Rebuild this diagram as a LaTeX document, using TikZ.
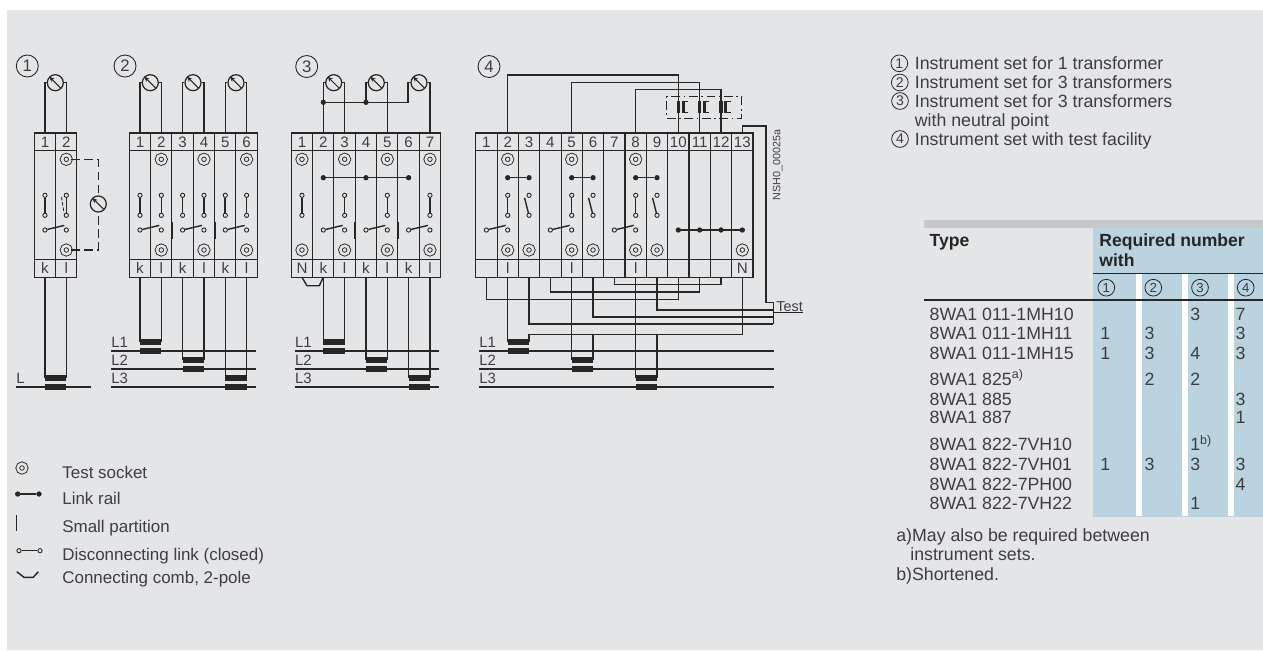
\documentclass[tikz,border=0pt]{standalone}
\usepackage{fontspec}
\setmainfont{Liberation Sans}
\usepackage{tikz}
\usetikzlibrary{arrows.meta,calc,positioning}
\newcommand{\colw}{21.33}
\definecolor{panelGray}{RGB}{228,229,231}
\definecolor{barGray}{RGB}{199,200,202}
\definecolor{tabBlue}{RGB}{186,211,222}
\definecolor{inkDark}{RGB}{38,38,38}
\definecolor{inkText}{RGB}{62,62,64}
\tikzset{
  wire/.style={draw=inkDark,line width=0.8pt},
  block/.style={draw=inkDark,line width=0.6pt},
  dashwire/.style={draw=inkDark,line width=0.7pt,dash pattern=on 5pt off 2.5pt},
  partit/.style={draw=inkDark,line width=1.1pt},
  tbar/.style={draw=inkDark,line width=3.4pt},
  lline/.style={draw=inkDark,line width=1pt},
  link/.style={draw=inkDark,line width=0.9pt},
  term/.style={draw=inkDark,fill=panelGray,shape=circle,minimum size=0.085cm,inner sep=0,line width=0.5pt},
  railnode/.style={draw=inkDark,fill=inkDark,shape=circle,minimum size=0.09cm,inner sep=0},
  socket/.style={draw=inkDark,shape=circle,double=panelGray,double distance=1.5pt,line width=0.5pt,minimum size=0.17cm,inner sep=0},
  meter/.style={draw=inkDark,fill=panelGray,shape=circle,minimum size=0.32cm,inner sep=0,line width=0.7pt,
    path picture={\draw [line width=0.6pt,inkDark,-{Stealth[length=3pt,width=2.6pt]}] ($(path picture bounding box.center)+(5.5,5.5)$) -- ($(path picture bounding box.center)+(-6,-6)$);}},
  numbig/.style={draw=inkDark,shape=circle,minimum size=0.44cm,inner sep=0,line width=0.5pt,text=inkText,font=\fontsize{9.5}{10}\selectfont},
  numsmall/.style={draw=inkDark,shape=circle,minimum size=0.335cm,inner sep=0,line width=0.45pt,text=inkText,font=\fontsize{8}{9}\selectfont},
  collabel/.style={inner sep=0,text=inkText,font=\fontsize{8.6}{9}\selectfont},
  phase/.style={anchor=base west,inner sep=0,text=inkText,font=\fontsize{8.5}{9}\selectfont},
  legtext/.style={anchor=base west,inner sep=0,text=inkText,font=\fontsize{9.65}{11}\selectfont},
  tabtext/.style={anchor=base west,inner sep=0,text=inkText,font=\fontsize{10.1}{12}\selectfont},
  tabhead/.style={anchor=base west,inner sep=0,text=inkDark,font=\fontsize{10}{12}\selectfont\bfseries},
  relay/.style={draw=inkDark,line width=0.6pt,dash pattern=on 5pt off 2pt on 1pt off 2pt,minimum width=1.5cm,minimum height=0.432cm,inner sep=0},
}
% #1 name, #2 left edge, #3 number of terminals
\newcommand{\termblock}[3]{
  \path [block] (#2,133) rectangle ++(#3*\colw,144.3);
  \path [block] (#2,150.7) -- ++(#3*\colw,0);
  \path [block] (#2,259.3) -- ++(#3*\colw,0);
  \foreach \i in {1,...,#3} {
    \pgfmathsetmacro{\xc}{#2+(\i-0.5)*\colw}
    \coordinate (#1\i t) at (\xc,133);
    \coordinate (#1\i b) at (\xc,277.3);
    \node (#1\i n) [collabel] at (\xc,142.3) {\i};
    \ifnum\i>1 \path [block] (\xc-0.5*\colw,133) -- (\xc-0.5*\colw,277.3); \fi
  }
}
\newcommand{\vlink}[1]{
  \node (#1u) [term] at (#1t |- 0,195.3) {};
  \node (#1v) [term] at (#1t |- 0,215.3) {};
  \path [link] (#1u) -- (#1v);
}
\newcommand{\openlink}[1]{
  \node (#1u) [term] at (#1t |- 0,195.3) {};
  \node (#1v) [term] at (#1t |- 0,215.3) {};
  \path [wire] ($(#1u)+(-4.5,2.5)$) -- (#1v);
}
\newcommand{\hlink}[2]{
  \node (#1h) [term] at (#1t |- 0,230) {};
  \node (#2h) [term] at (#2t |- 0,230) {};
  \path [wire] (#1h) -- ($(#2h)+(-2,-4.6)$);
}
\newcommand{\partition}[2]{
  \coordinate (pp) at ($(#1t)!.5!(#2t)$);
  \path [partit] (pp |- 0,222) -- (pp |- 0,239);
}
\newcommand{\rail}[2]{
  \node (#1r) [railnode] at (#1t |- 0,177.7) {};
  \node (#2r) [railnode] at (#2t |- 0,177.7) {};
  \path [link] (#1r) -- (#2r);
}
\newcommand{\transbar}[3]{
  \path [tbar,line cap=butt] (#1b |- 0,#3) -- (#2b |- 0,#3);
  \path [tbar,line cap=butt] (#1b |- 0,#3+9.6) -- (#2b |- 0,#3+9.6);
}
\newcommand{\phaseline}[5]{
  \node (#1) [phase] at (#2,#4-3.6) {#5};
  \coordinate (#1s) at (#2,#4);
  \coordinate (#1e) at (#3,#4);
  \path [lline] (#1s) -- (#1e);
}
\begin{document}
\begin{tikzpicture}[x=0.02cm,y=-0.02cm]
  \useasboundingbox (0,0) rectangle (1263,650);
  \path [fill=panelGray] (7,10) rectangle (1263,650);

  \node (seta) [numbig] at (27.3,66) {1};
  \node (setb) [numbig] at (125,66) {2};
  \node (setc) [numbig] at (306.7,66.5) {3};
  \node (setd) [numbig] at (489,66.5) {4};

  \termblock{a}{34.3}{2}
  \termblock{b}{129.3}{6}
  \termblock{c}{291.3}{7}
  \termblock{d}{475.7}{13}

  % lower label row
  \foreach \col/\lab in {a1/k,a2/l,b1/k,b2/l,b3/k,b4/l,b5/k,b6/l,c1/N,c2/k,c3/l,c4/k,c5/l,c6/k,c7/l,d2/l,d5/l,d8/l,d13/N} {
    \node (\col k) [collabel] at (\col t |- 0,268.5) {\lab};
  }
  % test sockets
  \foreach \col in {a2,b2,b4,b6,c1,c3,c5,c7,d2,d5,d8} {
    \node (\col s) [socket] at (\col t |- 0,159.3) {};
  }
  \foreach \col in {a2,b2,b4,b6,c1,c3,c5,c7,d2,d3,d5,d6,d8,d9,d13} {
    \node (\col w) [socket] at (\col t |- 0,250) {};
  }
  % disconnecting links
  \foreach \col in {a1,a2,b1,b2,b3,b4,b5,b6,c1,c3,c5,c7,d2,d5,d8} {\vlink{\col}}
  \foreach \col in {d3,d6,d9} {\openlink{\col}}
  \foreach \cola/\colb in {a1/a2,b1/b2,b3/b4,b5/b6,c2/c3,c4/c5,c6/c7,d1/d2,d4/d5,d7/d8} {\hlink{\cola}{\colb}}
  \foreach \cola/\colb in {b2/b3,b4/b5,c3/c4,c5/c6} {\partition{\cola}{\colb}}
  \path [draw=inkDark,line width=0.5pt,dash pattern=on 2pt off 1pt] (61.5,197) -- (64,213);

  % set 1
  \node (ma) [meter] at (55.3,82.7) {};
  \node (mx) [meter] at (98.3,204) {};
  \path [wire] (a1t) |- (ma);
  \path [wire] (a2t) |- (ma);
  \path [dashwire] (a2s) -| (mx);
  \path [dashwire] (a2w) -| (mx);
  \path [wire] (a1b) -- (a1b |- 0,377.7) -- (a2b |- 0,377.7) -- (a2b);
  \transbar{a1}{a2}{377.7}
  \phaseline{pL}{16}{90.7}{387.3}{L}

  % set 2
  \node (mb1) [meter] at (150.3,82.7) {};
  \node (mb2) [meter] at (193,82.7) {};
  \node (mb3) [meter] at (236,82.7) {};
  \path [wire] (b1t) |- (mb1);
  \path [wire] (b2t) |- (mb1);
  \path [wire] (b3t) |- (mb2);
  \path [wire] (b4t) |- (mb2);
  \path [wire] (b5t) |- (mb3);
  \path [wire] (b6t) |- (mb3);
  \path [wire] (b1b) -- (b1b |- 0,341.7) -- (b2b |- 0,341.7) -- (b2b);
  \path [wire] (b3b) -- (b3b |- 0,359.7) -- (b4b |- 0,359.7) -- (b4b);
  \path [wire] (b5b) -- (b5b |- 0,377.7) -- (b6b |- 0,377.7) -- (b6b);
  \transbar{b1}{b2}{341.7}
  \transbar{b3}{b4}{359.7}
  \transbar{b5}{b6}{377.7}
  \phaseline{pbA}{111}{256}{351.3}{L1}
  \phaseline{pbB}{111}{256}{369.3}{L2}
  \phaseline{pbC}{111}{256}{387.3}{L3}

  % set 3
  \node (mc1) [meter] at (333.7,82.7) {};
  \node (mc2) [meter] at (376.3,82.7) {};
  \node (mc3) [meter] at (419,82.7) {};
  \coordinate (cj3) at (408,102.3);
  \node (cj1) [railnode] at (c2t |- cj3) {};
  \node (cj2) [railnode] at (c4t |- cj3) {};
  \path [wire] (c2t) |- (mc1);
  \path [wire] (c3t) |- (mc1);
  \path [wire] (c5t) |- (mc2);
  \path [wire] (cj2) |- (mc2);
  \path [wire] (cj1) -- (cj3) |- (mc3);
  \path [wire] (c7t) |- (mc3);
  \rail{c2}{c6}
  \node (c4r) [railnode] at (c4t |- 0,177.7) {};
  \path [wire] (c1b) -- ++(5,8.4) -- ++(12.3,0) -- (c2b);
  \path [wire] (c2b) -- (c2b |- 0,341.7) -- (c3b |- 0,341.7) -- (c3b);
  \path [wire] (c4b) -- (c4b |- 0,359.7) -- (c5b |- 0,359.7) -- (c5b);
  \path [wire] (c6b) -- (c6b |- 0,377.7) -- (c7b |- 0,377.7) -- (c7b);
  \transbar{c2}{c3}{341.7}
  \transbar{c4}{c5}{359.7}
  \transbar{c6}{c7}{377.7}
  \phaseline{pcA}{294.7}{439.3}{351.3}{L1}
  \phaseline{pcB}{294.7}{439.3}{369.3}{L2}
  \phaseline{pcC}{294.7}{439.3}{387.3}{L3}

  % set 4
  \path [wire] (d2t) -- (d2t |- 0,75) -| (d10t);
  \path [wire] (d5t) -- (d5t |- 0,82.3) -| (d11t);
  \path [wire] (d8t) -- (d8t |- 0,89.3) -| (d12t);
  \node (relbox) [relay] at (704.2,107.5) {};
  \foreach \col in {d10,d11,d12} {
    \begin{scope}[shift={(\col t |- 0,107)}]
      \path [draw=inkDark,line width=2pt] (0,-6) -- (0,6);
      \path [draw=inkDark,line width=1.6pt] (4.8,-6) -- (4.8,6);
      \path [draw=inkDark,line width=0.5pt] (9.5,-5.5) -- (4.8,-5.5) -- (4.8,5.5) -- (9.5,5.5);
    \end{scope}
  }
  \rail{d2}{d3}
  \rail{d5}{d6}
  \rail{d8}{d9}
  \foreach \col in {d10,d11,d12,d13} {
    \node (\col h) [railnode] at (\col t |- 0,230) {};
  }
  \path [link] (d10h) -- (d13h);
  \coordinate (tc) at (766,302.7);
  \coordinate (tt) at (773.3,302.7);
  \coordinate (tu) at (773.3,324);
  \node (testlab) [phase,font=\fontsize{8.2}{9}\selectfont] at (776,311) {Test};
  \path [wire] (d13t) |- (tc |- 0,126) -- (tc) -- (tt) -- (tu);
  \path [wire] (tt |- 0,312.7) -- (testlab.base east |- 0,312.7);
  \path [wire] (d7b) -- (d7b |- 0,284.3) -| (d12b);
  \path [wire] (d4b) -- (d4b |- 0,292) -| (d11b);
  \path [wire] (d1b) -- (d1b |- 0,299.3) -| (d10b);
  \path [wire] (d9b) |- (tt |- 0,310);
  \path [wire] (d6b) |- (tt |- 0,317);
  \path [wire] (d3b) |- (tu);
  \path [wire] (d13b) -- (d13b |- 0,334.3) -- (d3b |- 0,334.3) -- (d3b |- 0,341.7);
  \path [wire] (d6b |- 0,334.3) -- (d6b |- 0,359.7);
  \path [wire] (d9b |- 0,334.3) -- (d9b |- 0,377.7);
  \path [wire] (d2b) -- (d2b |- 0,341.7);
  \path [wire] (d5b) -- (d5b |- 0,359.7);
  \path [wire] (d8b) -- (d8b |- 0,377.7);
  \transbar{d2}{d3}{341.7}
  \transbar{d5}{d6}{359.7}
  \transbar{d8}{d9}{377.7}
  \phaseline{pdA}{479}{774.3}{351.3}{L1}
  \phaseline{pdB}{479}{774.3}{369.3}{L2}
  \phaseline{pdC}{479}{774.3}{387.3}{L3}
  \node (docnr) [inner sep=0,rotate=90,text=inkText,font=\fontsize{6.1}{7}\selectfont] at (777.7,165) {NSH0\_00025a};

  % legend
  \node (legsock) [socket] at (22,468) {};
  \node (legra) [railnode] at (17.7,494) {};
  \node (legrb) [railnode] at (39,494) {};
  \path [link] (legra) -- (legrb);
  \coordinate (legpa) at (16.7,515);
  \coordinate (legpb) at (16.7,530.7);
  \path [wire] (legpa) -- (legpb);
  \node (legta) [term] at (19,550.7) {};
  \node (legtb) [term] at (40,550.7) {};
  \path [wire] (legta) -- (legtb);
  \coordinate (legca) at (16.7,571.7);
  \coordinate (legcb) at (38.3,571.7);
  \path [wire] (legca) -- ++(7.3,5.6) -- ++(9.3,0) -- (legcb);
  \foreach \y/\lab [count=\r] in {478/{Test socket},504/{Link rail},532.3/{Small partition},560/{Disconnecting link (closed)},583.3/{Connecting comb, 2-pole}} {
    \node (leg\r) [legtext] at (62,\y) {\lab};
  }

  % key
  \foreach \x/\y/\lab [count=\r] in {899.3/63.3/1,899.8/82.5/2,900/101/3,900/139/4} {
    \node (key\r) [numsmall] at (\x,\y) {\lab};
  }
  \foreach \y/\lab [count=\r] in {69.3/{Instrument set for 1 transformer},88.3/{Instrument set for 3 transformers},107.7/{Instrument set for 3 transformers},126.7/{with neutral point},145.7/{Instrument set with test facility}} {
    \node (keyt\r) [tabtext] at (914.5,\y) {\lab};
  }

  % table
  \path [fill=barGray] (924,220) rectangle (1263,227.7);
  \path [fill=tabBlue] (1093.3,227.7) rectangle (1263,516.7);
  \foreach \x in {1136,1182,1228} {
    \path [fill=white] (\x,273.3) rectangle (\x+6,516);
  }
  \path [draw=inkDark,line width=0.5pt] (1093.3,273.3) -- (1263,273.3);
  \path [draw=inkDark,line width=0.6pt] (924,300) -- (1263,300);
  \node (thtype) [tabhead] at (929.3,246.7) {Type};
  \node (threq) [tabhead] at (1099,246.7) {Required number};
  \node (thwith) [tabhead] at (1099,266) {with};
  \foreach \x/\lab [count=\r] in {1106.3/1,1153.3/2,1200/3,1245.7/4} {
    \node (thc\r) [numsmall,font=\fontsize{7.5}{9}\selectfont] at (\x,287.7) {\lab};
  }
  \foreach \y/\lab [count=\r] in {320/8WA1 011-1MH10,339.4/8WA1 011-1MH11,359/8WA1 011-1MH15,385/{8WA1 825\textsuperscript{a)}},405/8WA1 885,423.3/8WA1 887,450.7/8WA1 822-7VH10,470/8WA1 822-7VH01,490/8WA1 822-7PH00,509/8WA1 822-7VH22} {
    \node (tp\r) [tabtext] at (929.3,\y) {\lab};
  }
  \foreach \x/\y/\lab [count=\r] in {1190/320/3,1235.3/320/7,1100/339.4/1,1144.3/339.4/3,1235.3/339.4/3,1100/359/1,1144.3/359/3,1190/359/4,1235.3/359/3,1144.3/385/2,1190/385/2,1235.3/405/3,1235.3/423.3/1,1190/450.7/{1\textsuperscript{b)}},1100/470/1,1144.3/470/3,1190/470/3,1235.3/470/3,1235.3/490/4,1190/509/1} {
    \node (val\r) [tabtext] at (\x,\y) {\lab};
  }
  \node (noteA) [tabtext] at (896,541.7) {a)May also be required between};
  \node (noteAb) [tabtext] at (910,560.7) {instrument sets.};
  \node (noteB) [tabtext] at (896,580) {b)Shortened.};
\end{tikzpicture}
\end{document}
